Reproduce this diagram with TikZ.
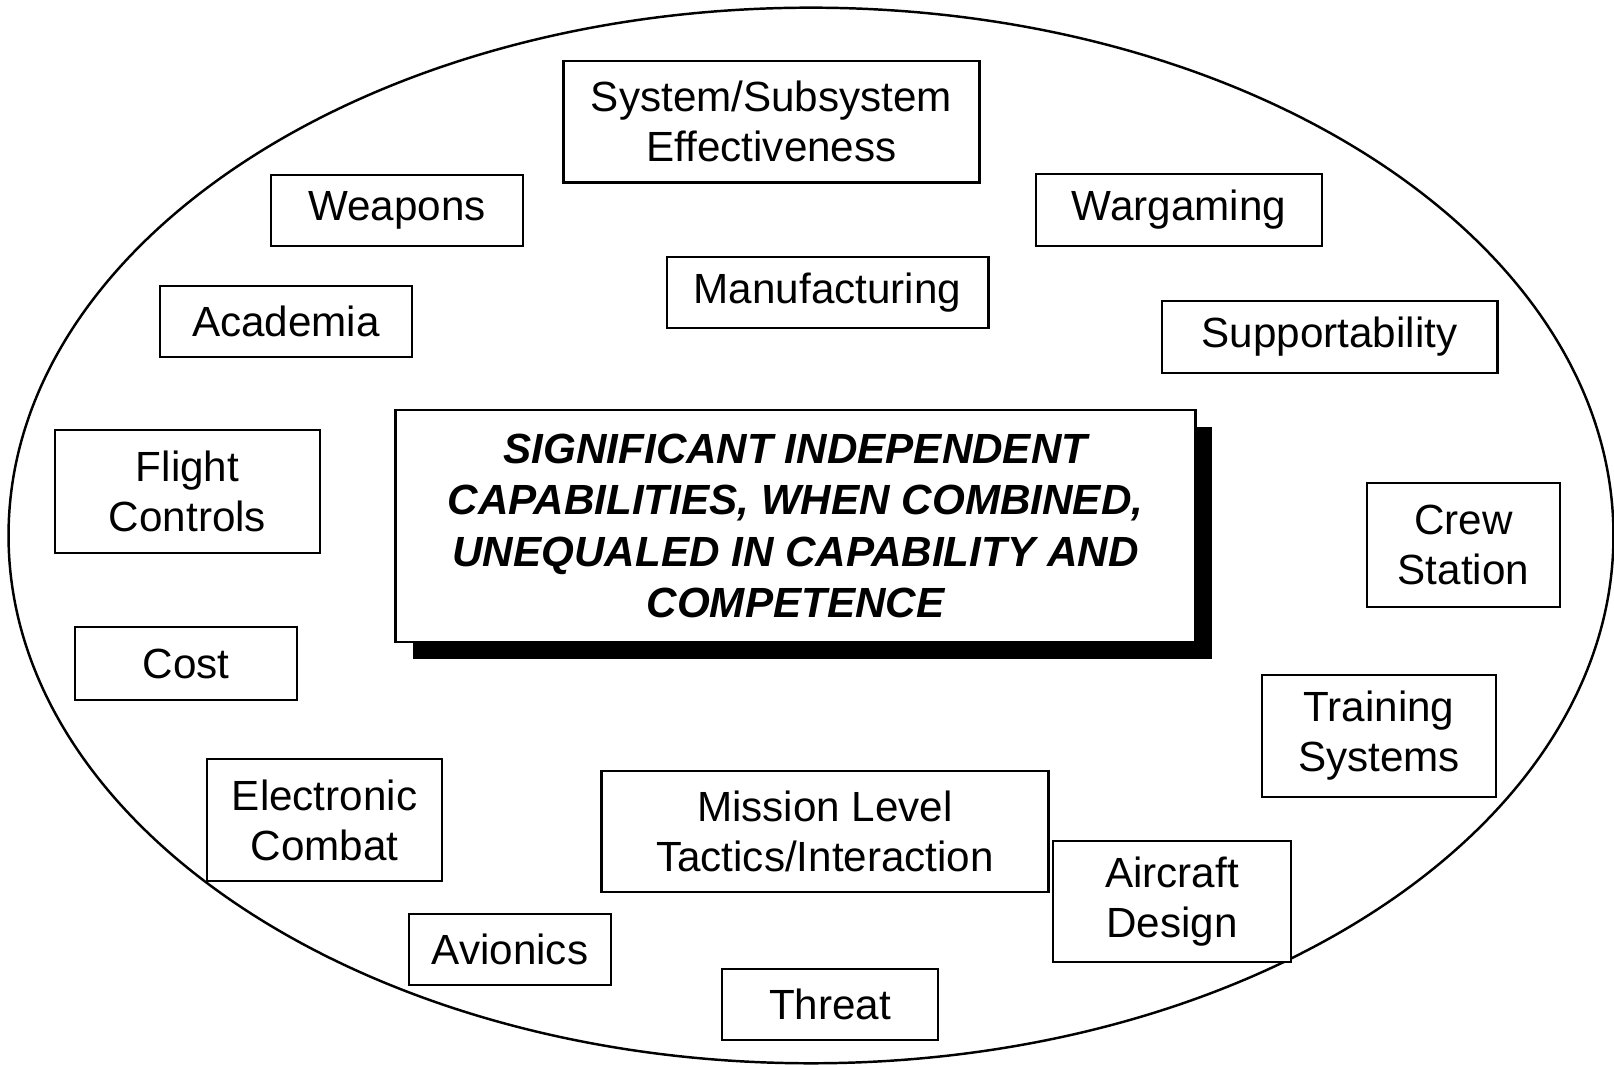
\documentclass[tikz,border=0pt]{standalone}
\usepackage{fontspec}
\setmainfont{Liberation Sans}
\usetikzlibrary{shadows}
\begin{document}
\begin{tikzpicture}[x=0.01cm,y=-0.01cm,
  box/.style={draw, line width=0.8pt, fill=white, align=center, inner sep=0pt,
    font=\fontsize{12}{14.2}\selectfont},
  corebox/.style={box, font=\fontsize{12}{14.6}\selectfont\bfseries\itshape,
    general shadow={fill=black, shadow xshift=0.17cm, shadow yshift=-0.17cm}},
  ring/.style={line width=0.7pt}]
\useasboundingbox (0,0) rectangle (1614,1065);
\draw[ring] (811,535.5) ellipse [x radius=8.02cm, y radius=5.275cm];
\node[box, minimum width=4.15cm, minimum height=1.215cm] (sys) at (771.5,121.75) {System/Subsystem\\Effectiveness};
\node[box, minimum width=2.52cm, minimum height=0.71cm] (weap) at (397,210.5) {Weapons};
\node[box, minimum width=2.86cm, minimum height=0.72cm] (warg) at (1179,210) {Wargaming};
\node[box, minimum width=3.21cm, minimum height=0.71cm] (manu) at (827.5,292.5) {Manufacturing};
\node[box, minimum width=2.52cm, minimum height=0.71cm] (acad) at (286,321.5) {Academia};
\node[box, minimum width=3.35cm, minimum height=0.72cm] (supp) at (1329.5,337) {Supportability};
\node[box, minimum width=2.65cm, minimum height=1.23cm] (flight) at (187.5,491.5) {Flight\\Controls};
\node[corebox, minimum width=7.99cm, minimum height=2.32cm] (core) at (795.5,526) {SIGNIFICANT INDEPENDENT\\CAPABILITIES, WHEN COMBINED,\\UNEQUALED IN CAPABILITY AND\\COMPETENCE};
\node[box, minimum width=1.93cm, minimum height=1.24cm] (crew) at (1463.5,545) {Crew\\Station};
\node[box, minimum width=2.22cm, minimum height=0.73cm] (cost) at (186,663.5) {Cost};
\node[box, minimum width=2.34cm, minimum height=1.22cm] (train) at (1379,736) {Training\\Systems};
\node[box, minimum width=2.35cm, minimum height=1.22cm] (ec) at (324.5,820) {Electronic\\Combat};
\node[box, minimum width=4.46cm, minimum height=1.21cm] (mission) at (825,831.5) {Mission Level\\Tactics/Interaction};
\node[box, minimum width=2.38cm, minimum height=1.21cm] (aircraft) at (1172,901.5) {Aircraft\\Design};
\node[box, minimum width=2.02cm, minimum height=0.71cm] (avion) at (510,949.5) {Avionics};
\node[box, minimum width=2.16cm, minimum height=0.71cm] (threat) at (830,1004.5) {Threat};
\end{tikzpicture}
\end{document}
